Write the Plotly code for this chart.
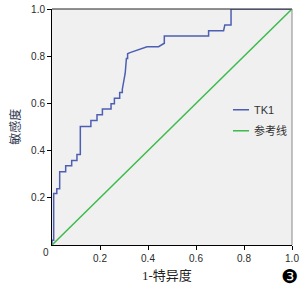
import plotly.graph_objects as go

# ROC curve for TK1 (1 - specificity, sensitivity)
fpr = [0, 0, 0.007, 0.007, 0.02, 0.02, 0.032, 0.032, 0.057, 0.057, 0.082, 0.082,
       0.104, 0.104, 0.118, 0.118, 0.162, 0.162, 0.1875, 0.1875, 0.21, 0.21,
       0.246, 0.246, 0.26, 0.26, 0.282, 0.282, 0.293, 0.293, 0.305, 0.31, 0.315,
       0.315, 0.325, 0.396, 0.444, 0.468, 0.468, 0.6525, 0.6525, 0.715, 0.72,
       0.746, 0.746, 1.0]
tpr = [0, 0.02, 0.02, 0.218, 0.218, 0.238, 0.238, 0.31, 0.31, 0.336, 0.336, 0.358,
       0.358, 0.384, 0.384, 0.502, 0.502, 0.528, 0.528, 0.552, 0.552, 0.576,
       0.576, 0.598, 0.598, 0.622, 0.622, 0.646, 0.646, 0.66, 0.728, 0.79, 0.79,
       0.81, 0.815, 0.84, 0.84, 0.855, 0.886, 0.886, 0.908, 0.908, 0.932,
       0.932, 1.0, 1.0]
ref_x = [0, 1]
ref_y = [0, 1]
tick_vals = [0.2, 0.4, 0.6, 0.8, 1.0]
tick_text = ["0.2", "0.4", "0.6", "0.8", "1.0"]
series_names = ["TK1", "参考线"]
colors = ["#4d5fb3", "#3dbb4c"]

fig = go.Figure()
fig.add_trace(go.Scatter(x=fpr, y=tpr, mode="lines", name=series_names[0],
                         line=dict(color=colors[0], width=1.5), showlegend=False))
fig.add_trace(go.Scatter(x=ref_x, y=ref_y, mode="lines", name=series_names[1],
                         line=dict(color=colors[1], width=1.5), showlegend=False))

tickfont = dict(family="Liberation Sans, Arial, sans-serif", size=10, color="#2a2a2a")
fig.update_layout(
    width=303, height=291,
    margin=dict(l=52, r=11, t=9, b=45.5, autoexpand=False),
    paper_bgcolor="white", plot_bgcolor="#f0f0f0",
    showlegend=False,
    xaxis=dict(range=[0, 1], tickvals=tick_vals, ticktext=tick_text, showgrid=False,
               zeroline=False, showline=True, linecolor="black", linewidth=1,
               ticks="outside", ticklen=4, tickcolor="black", tickfont=tickfont,
               automargin=False),
    yaxis=dict(range=[0, 1], tickvals=tick_vals, ticktext=tick_text, showgrid=False,
               zeroline=False, showline=True, linecolor="black", linewidth=1,
               ticks="outside", ticklen=4, tickcolor="black", tickfont=tickfont,
               automargin=False),
)

# top (dark) and right (gray) frame
fig.add_shape(type="line", xref="paper", yref="paper", x0=0, x1=1, y0=1, y1=1,
              line=dict(color="#222222", width=1))
fig.add_shape(type="line", xref="paper", yref="paper", x0=1, x1=1, y0=0, y1=1,
              line=dict(color="#888888", width=1))

# custom legend
leg_y = [0.573, 0.484]
for i in range(2):
    fig.add_shape(type="line", xref="paper", yref="paper", x0=0.754, x1=0.821,
                  y0=leg_y[i], y1=leg_y[i], line=dict(color=colors[i], width=1.5))
    fig.add_annotation(xref="paper", yref="paper", x=0.835, y=leg_y[i],
                       text=series_names[i], showarrow=False, xanchor="left",
                       yanchor="middle",
                       font=dict(family="Liberation Sans, Noto Sans CJK SC, sans-serif",
                                 size=11, color="#333333"))

# corner zero label
fig.add_annotation(xref="paper", yref="paper", x=-0.027, y=-0.03, text="0",
                   showarrow=False, xanchor="center", yanchor="middle",
                   font=tickfont)
# axis titles
fig.add_annotation(xref="paper", yref="paper", x=0.478, y=-0.13, text="1-特异度",
                   showarrow=False, xanchor="center", yanchor="middle",
                   font=dict(family="Liberation Serif, Noto Sans CJK SC, serif",
                             size=13, color="#222222"))
fig.add_annotation(xref="paper", yref="paper", x=-0.159, y=0.50, text="敏感度",
                   showarrow=False, textangle=-90, xanchor="center", yanchor="middle",
                   font=dict(family="Noto Sans CJK SC, sans-serif", size=12,
                             color="#2d3850"))
fig.add_annotation(xref="paper", yref="paper", x=0.99, y=-0.13, text="❸",
                   showarrow=False, xanchor="center", yanchor="middle",
                   font=dict(family="DejaVu Sans, sans-serif", size=19, color="black"))

fig.write_html("out.html")
